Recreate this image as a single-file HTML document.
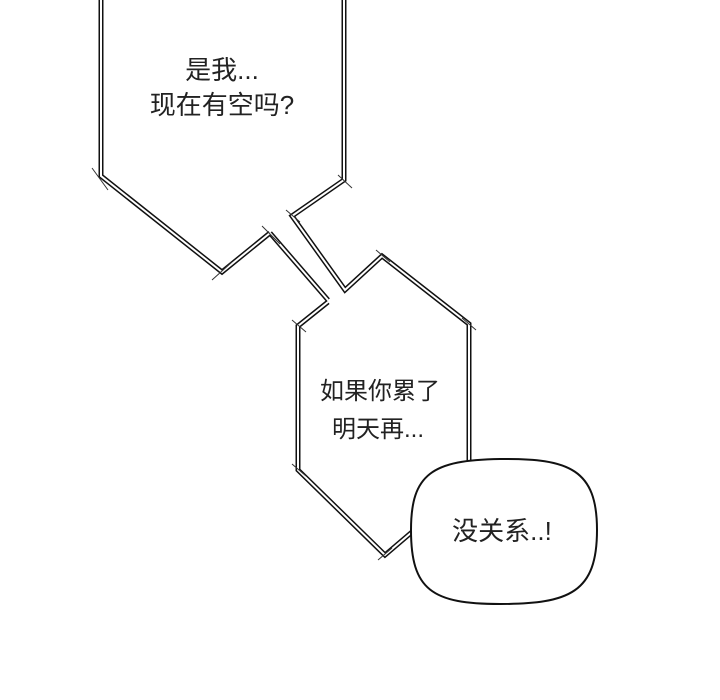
<!DOCTYPE html>
<html><head><meta charset="utf-8"><style>
html,body{margin:0;padding:0;background:#fff;}
svg{display:block;}
text{font-family:"Liberation Sans","Noto Sans CJK SC",sans-serif;fill:#222;}
</style></head><body>
<svg width="720" height="700" viewBox="0 0 720 700" xmlns="http://www.w3.org/2000/svg">
<rect width="720" height="700" fill="#fff"/>
<g fill="none" stroke-linejoin="miter">
<g stroke="#111" stroke-width="5">
<polyline points="101,0 101,176 222,272 270,233"/>
<polyline points="270,233 328,300"/>
<polyline points="344,0 344,180 292,216 345,290 382,256 469,324 469,470"/>
<polyline points="328,302 298,326 298,470 385,555 412,532"/>
</g>
<g stroke="#fff" stroke-width="2">
<polyline points="101,0 101,176 222,272 270,233"/>
<polyline points="270,233 328,300"/>
<polyline points="344,0 344,180 292,216 345,290 382,256 469,324 469,470"/>
<polyline points="328,302 298,326 298,470 385,555 412,532"/>
</g>
<g stroke="#333" stroke-width="1">
<line x1="92" y1="168" x2="108" y2="190"/>
<line x1="212" y1="280" x2="232" y2="262"/>
<line x1="262" y1="226" x2="280" y2="244"/>
<line x1="286" y1="210" x2="300" y2="222"/>
<line x1="338" y1="175" x2="352" y2="188"/>
<line x1="376" y1="250" x2="390" y2="262"/>
<line x1="462" y1="318" x2="476" y2="330"/>
<line x1="292" y1="320" x2="306" y2="332"/>
<line x1="292" y1="464" x2="306" y2="476"/>
<line x1="378" y1="560" x2="392" y2="548"/>
</g>
</g>
<path d="M500,459 C570,458 597,470 597,530 C597,592 570,604 500,604 C432,604 411,590 411,530 C411,474 432,460 500,459 Z" fill="#fff" stroke="#111" stroke-width="2"/>
<text x="222" y="79" font-size="26" text-anchor="middle">是我...</text>
<text x="222" y="114" font-size="26" text-anchor="middle">现在有空吗?</text>
<text x="380" y="399" font-size="24" text-anchor="middle">如果你累了</text>
<text x="378" y="437" font-size="24" text-anchor="middle">明天再...</text>
<text x="502" y="540" font-size="26" text-anchor="middle">没关系..!</text>
</svg>
</body></html>
